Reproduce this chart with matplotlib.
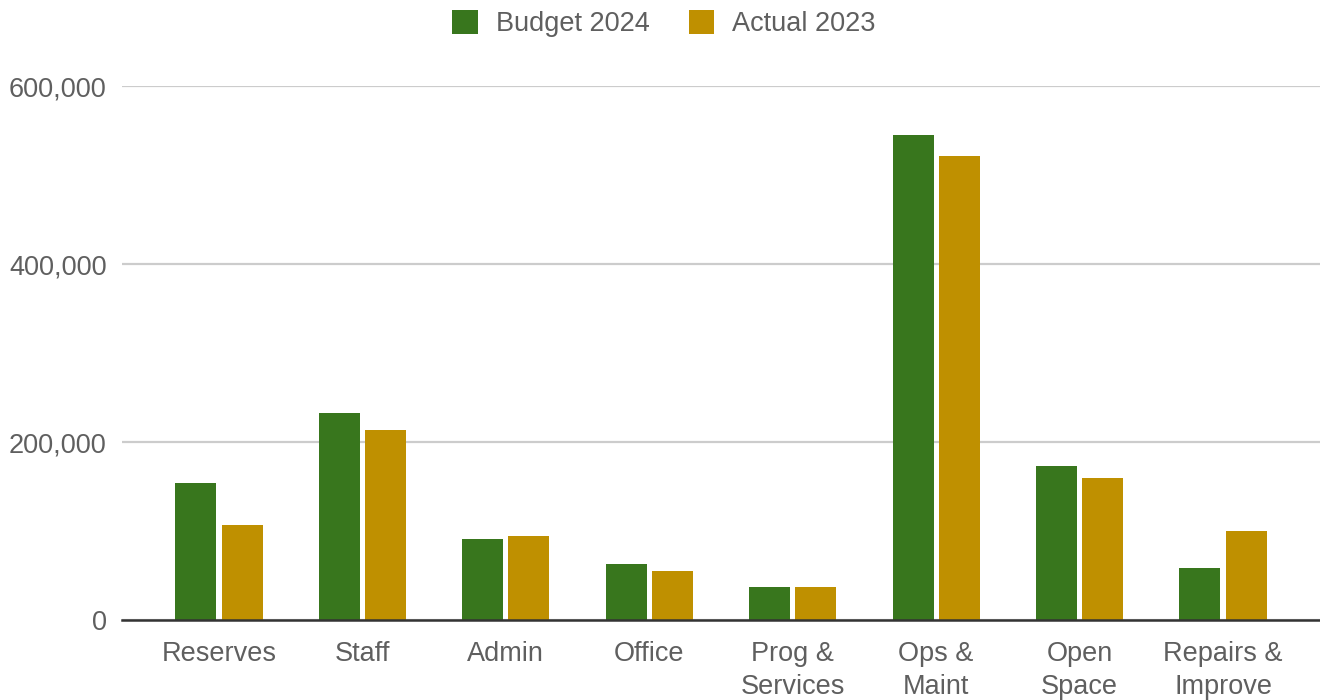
import numpy as np
import matplotlib
matplotlib.use('Agg')
import matplotlib.pyplot as plt
from matplotlib.patches import Patch
from matplotlib.ticker import FuncFormatter

categories = ['Reserves', 'Staff', 'Admin', 'Office', 'Prog &\nServices',
              'Ops &\nMaint', 'Open\nSpace', 'Repairs &\nImprove']
budget_2024 = [154000, 232500, 91500, 62700, 37000, 544700, 173300, 58000]
actual_2023 = [107300, 214000, 94200, 55000, 37000, 521400, 160000, 100200]
yticks = [0, 200000, 400000, 600000]

green = '#38761d'
gold = '#bf9000'
grey_text = '#5f5f5f'

plt.rcParams['font.family'] = ['Liberation Sans', 'DejaVu Sans']

fig = plt.figure(figsize=(13.2, 7.0), dpi=100)
ax = fig.add_axes([0.0924, 0.1143, 0.9076, 0.7627])

x = np.arange(len(categories))
w = 0.286
off = 0.161
ax.bar(x - off, budget_2024, width=w, color=green, zorder=3)
ax.bar(x + off, actual_2023, width=w, color=gold, zorder=3)

ax.set_xlim(-0.676, len(categories) - 1 + 0.676)
ax.set_ylim(0, 600000)
ax.set_yticks(yticks)
ax.yaxis.set_major_formatter(FuncFormatter(lambda v, p: f'{int(v):,}'))
ax.set_xticks(x)
ax.set_xticklabels(categories, linespacing=1.36)

ax.tick_params(axis='both', length=0, labelsize=19.5, colors=grey_text)
ax.tick_params(axis='y', pad=11)
ax.tick_params(axis='x', pad=15)

ax.grid(axis='y', color='#cccccc', linewidth=1.6, zorder=0)
for s in ['top', 'right', 'left']:
    ax.spines[s].set_visible(False)
ax.spines['bottom'].set_color('#333333')
ax.spines['bottom'].set_linewidth(1.8)
ax.spines['bottom'].set_zorder(4)

handles = [Patch(facecolor=green, label='Budget 2024'),
           Patch(facecolor=gold, label='Actual 2023')]
leg = fig.legend(handles=handles, loc='upper center', bbox_to_anchor=(0.503, 1.02),
                 ncol=2, frameon=False, fontsize=19.5, handlelength=0.95,
                 handleheight=0.95, handletextpad=0.65, columnspacing=1.45)
for t in leg.get_texts():
    t.set_color(grey_text)

fig.savefig('out.png', dpi=100)
